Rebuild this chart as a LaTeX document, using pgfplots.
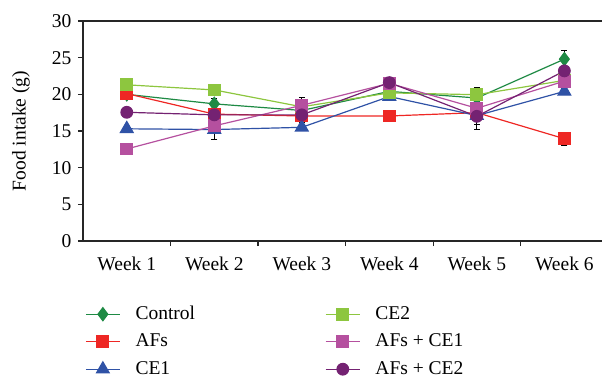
\documentclass[border=0pt]{standalone}
\usepackage{fontspec}
\setmainfont{Liberation Serif}
\usepackage{pgfplots}
\usepackage{pgfplotstable}
\pgfplotsset{compat=1.18}
\definecolor{cCtrl}{HTML}{1E8A44}
\definecolor{cAFs}{HTML}{EE2724}
\definecolor{cCEa}{HTML}{2F52A6}
\definecolor{cCEb}{HTML}{8DC63F}
\definecolor{cAFa}{HTML}{B5509F}
\definecolor{cAFb}{HTML}{742272}
\pgfplotstableread{
x  ctrl  ctrle  afs   afse  cea   ceae  ceb   cebe  afa   afae  afb   afbe
0  20.0  0.5    20.1  0.3   15.3  0.3   21.3  0.3   12.55 0.3   17.55 0.3
1  18.7  0.7    17.3  0.4   15.2  1.3   20.6  0.8   15.7  0.5   17.2  0.5
2  17.8  0.4    17.05 0.4   15.5  0.4   18.3  0.5   18.5  1.1   17.2  1.0
3  20.4  0.4    17.05 0.3   19.7  0.3   20.2  0.3   21.5  0.3   21.6  0.3
4  19.5  0.5    17.5  0.3   17.1  1.2   19.95 1.0   18.1  0.6   17.0  1.8
5  24.8  1.2    13.95 0.9   20.4  0.4   21.9  0.4   21.8  0.5   23.2  0.6
}\data
\begin{document}
\fontsize{19.5}{23}\selectfont
\begin{tikzpicture}
\begin{axis}[name=ax, scale only axis, width=519pt, height=220pt,
  xmin=-0.5, xmax=5.43, ymin=0, ymax=30,
  axis x line=box, axis y line=left, axis line style={-, black!85, line width=1.1pt},
  ytick={0,5,...,30},
  xtick={0,...,5},
  xticklabels={Week 1,Week 2,Week 3,Week 4,Week 5,Week 6},
  xtick style={draw=none},
  extra x ticks={0.5,1.5,2.5,3.5,4.5},
  extra x tick labels={},
  extra x tick style={xtick style={draw=black!85, line width=1.1pt}},
  ytick style={black!85, line width=1.1pt},
  tick align=outside, xtick pos=left, ytick pos=left,
  major tick length=5pt,
  /pgf/number format/assume math mode=true,
  ticklabel style={font=\fontsize{19.5}{23}\selectfont},
  xticklabel style={yshift=-4pt},
  ylabel={Food intake (g)},
  every axis y label/.style={at={(rel axis cs:0,0.5)}, xshift=-62pt, rotate=90, anchor=center, font=\fontsize{19.5}{23}\selectfont},
  legend style={at={(0,0)}, anchor=north west, xshift=2pt, yshift=-64pt, draw=none, fill=none, inner sep=0pt, row sep=9.5pt,
    nodes={inner sep=0pt, text height=14pt, text depth=4pt, anchor=west, font=\fontsize{19.5}{23}\selectfont},
    /tikz/every odd column/.append style={column sep=15pt},
    /tikz/every even column/.append style={column sep=130pt}},
  legend cell align=left, legend columns=3, transpose legend,
  legend image code/.code={\draw[mark repeat=2,mark phase=2] plot coordinates {(0cm,0cm) (0.6cm,0cm) (1.2cm,0cm)};},
  every axis plot/.append style={line width=1.2pt},
  error bars/y dir=both, error bars/y explicit,
  error bars/error bar style={black, line width=1pt},
  error bars/error mark options={rotate=90, mark size=3pt, line width=1pt, black},
]
\addplot[color=cCtrl, mark=diamond*, mark size=6.5pt, mark options={solid}] table[x=x, y=ctrl, y error=ctrle] {\data};
\addlegendentry{Control}
\addplot[color=cAFs, mark=square*, mark size=5.8pt, mark options={solid}] table[x=x, y=afs, y error=afse] {\data};
\addlegendentry{AFs}
\addplot[color=cCEa, mark=triangle*, mark size=7.3pt, mark options={solid}] table[x=x, y=cea, y error=ceae] {\data};
\addlegendentry{CE1}
\addplot[color=cCEb, mark=square*, mark size=5.8pt, mark options={solid}] table[x=x, y=ceb, y error=cebe] {\data};
\addlegendentry{CE2}
\addplot[color=cAFa, mark=square*, mark size=5.8pt, mark options={solid}] table[x=x, y=afa, y error=afae] {\data};
\addlegendentry{AFs + CE1}
\addplot[color=cAFb, mark=*, mark size=5.8pt, mark options={solid}] table[x=x, y=afb, y error=afbe] {\data};
\addlegendentry{AFs + CE2}
\end{axis}
\pgfresetboundingbox
\path[use as bounding box] ([shift={(-83pt,-136pt)}]ax.south west) rectangle ([shift={(0pt,21pt)}]ax.north east);
\end{tikzpicture}
\end{document}
